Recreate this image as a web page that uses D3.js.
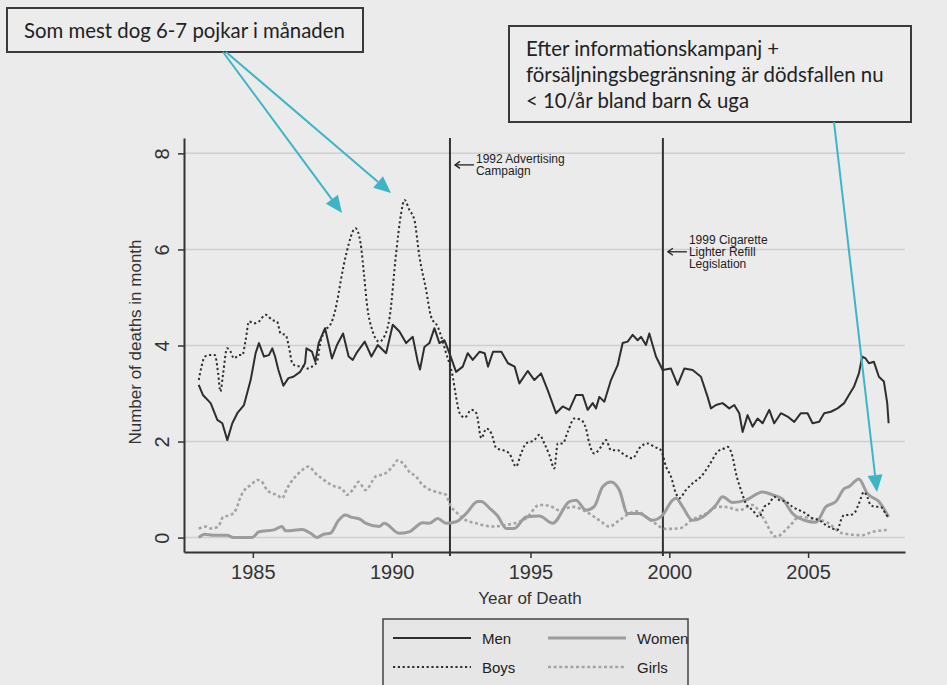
<!DOCTYPE html>
<html><head><meta charset="utf-8">
<script src="https://cdn.jsdelivr.net/npm/d3@7"></script>
<style>body{margin:0;background:#ebebeb;} svg{display:block;}</style>
</head><body><svg id="c" width="947" height="685"></svg>
<script>
// ---- data: [year, deaths in month] ----
const menData=[[1983.05,3.18],[1983.2,2.97],[1983.48,2.8],[1983.72,2.45],[1983.9,2.38],[1984.08,2.03],[1984.26,2.38],[1984.44,2.59],[1984.68,2.76],[1984.92,3.28],[1985.1,3.84],[1985.22,4.05],[1985.4,3.77],[1985.58,3.8],[1985.7,3.94],[1985.8,3.77],[1985.92,3.49],[1986.1,3.16],[1986.28,3.32],[1986.46,3.35],[1986.7,3.45],[1986.88,3.63],[1986.93,3.94],[1987.13,3.87],[1987.25,3.66],[1987.37,4.05],[1987.6,4.36],[1987.85,3.73],[1988.03,4.01],[1988.25,4.25],[1988.45,3.77],[1988.6,3.7],[1988.73,3.84],[1989.03,4.08],[1989.27,3.77],[1989.5,4.01],[1989.8,3.84],[1990.04,4.43],[1990.28,4.29],[1990.52,4.05],[1990.76,4.18],[1990.94,3.66],[1991.02,3.5],[1991.18,3.97],[1991.36,4.05],[1991.54,4.36],[1991.72,4.05],[1991.9,4.11],[1992.08,3.84],[1992.32,3.45],[1992.56,3.56],[1992.74,3.84],[1992.92,3.7],[1993.17,3.87],[1993.35,3.84],[1993.47,3.56],[1993.65,3.87],[1993.95,3.87],[1994.19,3.63],[1994.43,3.56],[1994.6,3.21],[1994.9,3.47],[1995.14,3.28],[1995.38,3.42],[1995.62,3.07],[1995.92,2.59],[1996.16,2.73],[1996.4,2.66],[1996.64,2.97],[1996.88,2.97],[1997.06,2.66],[1997.24,2.8],[1997.36,2.69],[1997.48,2.93],[1997.66,2.83],[1997.9,3.28],[1998.14,3.59],[1998.32,4.05],[1998.5,4.08],[1998.68,4.22],[1998.86,4.11],[1998.98,4.18],[1999.16,4.01],[1999.28,4.25],[1999.52,3.77],[1999.76,3.49],[2000.06,3.52],[2000.3,3.18],[2000.54,3.52],[2000.84,3.49],[2001.14,3.35],[2001.38,2.93],[2001.5,2.69],[2001.68,2.76],[2001.92,2.8],[2002.16,2.69],[2002.34,2.76],[2002.52,2.59],[2002.64,2.2],[2002.82,2.55],[2003.0,2.31],[2003.18,2.48],[2003.36,2.38],[2003.6,2.66],[2003.78,2.38],[2004.02,2.59],[2004.26,2.52],[2004.5,2.41],[2004.74,2.59],[2004.98,2.59],[2005.16,2.38],[2005.4,2.41],[2005.58,2.59],[2005.82,2.62],[2006.06,2.69],[2006.3,2.8],[2006.47,2.97],[2006.65,3.14],[2006.83,3.42],[2006.95,3.77],[2007.07,3.73],[2007.19,3.63],[2007.37,3.66],[2007.55,3.35],[2007.73,3.25],[2007.85,2.8],[2007.9,2.38]];
const womenData=[[1983.05,0],[1983.27,0.07],[1983.57,0.05],[1984.07,0.05],[1984.3,0],[1984.97,0],[1985.22,0.12],[1985.76,0.16],[1986.05,0.23],[1986.18,0.14],[1986.78,0.17],[1987.08,0.09],[1987.31,0],[1987.55,0.07],[1987.79,0.09],[1988.09,0.36],[1988.33,0.47],[1988.57,0.42],[1988.87,0.38],[1989.06,0.3],[1989.55,0.23],[1989.73,0.3],[1990.27,0.09],[1990.63,0.12],[1991.12,0.31],[1991.36,0.3],[1991.66,0.4],[1991.96,0.3],[1992.32,0.33],[1992.68,0.5],[1993.1,0.75],[1993.23,0.75],[1993.53,0.61],[1993.82,0.45],[1994.13,0.19],[1994.42,0.19],[1994.84,0.43],[1995.32,0.45],[1995.8,0.3],[1996.4,0.75],[1996.64,0.78],[1997.0,0.57],[1997.3,0.65],[1997.6,1.06],[1997.9,1.16],[1998.2,0.99],[1998.5,0.5],[1998.92,0.5],[1999.4,0.36],[1999.76,0.47],[2000.12,0.78],[2000.24,0.82],[2000.48,0.64],[2000.84,0.36],[2001.2,0.43],[2001.68,0.68],[2001.92,0.85],[2002.28,0.73],[2002.76,0.78],[2003.36,0.95],[2003.72,0.89],[2004.08,0.8],[2004.44,0.5],[2004.92,0.35],[2005.28,0.32],[2005.64,0.64],[2006.0,0.75],[2006.3,1.02],[2006.47,1.06],[2006.83,1.22],[2007.13,0.92],[2007.55,0.75],[2007.9,0.43]];
const boysData=[[1983.05,3.28],[1983.15,3.56],[1983.27,3.77],[1983.45,3.8],[1983.63,3.8],[1983.75,3.42],[1983.83,3.04],[1983.93,3.42],[1984.07,3.94],[1984.2,3.87],[1984.32,3.73],[1984.5,3.8],[1984.62,3.8],[1984.74,4.11],[1984.86,4.5],[1985.04,4.46],[1985.22,4.5],[1985.46,4.64],[1985.7,4.53],[1985.87,4.5],[1986.0,4.25],[1986.18,4.22],[1986.3,3.97],[1986.42,3.63],[1986.6,3.57],[1986.78,3.57],[1986.96,3.52],[1987.13,3.56],[1987.31,3.66],[1987.43,4.05],[1987.61,4.32],[1987.79,4.43],[1987.97,4.74],[1988.09,5.09],[1988.17,5.36],[1988.37,5.92],[1988.7,6.44],[1988.88,6.13],[1989.0,5.5],[1989.12,4.81],[1989.3,4.32],[1989.55,4.08],[1989.73,4.18],[1989.93,4.6],[1990.16,5.92],[1990.34,6.75],[1990.46,7.03],[1990.64,6.82],[1990.82,6.61],[1991.0,5.85],[1991.24,5.16],[1991.42,4.6],[1991.66,4.39],[1991.96,3.84],[1992.2,3.35],[1992.32,2.93],[1992.45,2.59],[1992.63,2.5],[1992.87,2.66],[1993.05,2.59],[1993.23,2.07],[1993.41,2.27],[1993.59,2.17],[1993.77,1.86],[1994.01,1.82],[1994.24,1.75],[1994.48,1.48],[1994.66,1.75],[1994.84,1.96],[1995.14,2.03],[1995.32,2.14],[1995.5,1.96],[1995.68,1.72],[1995.86,1.44],[1995.98,1.96],[1996.16,1.96],[1996.34,2.2],[1996.58,2.48],[1996.82,2.45],[1997.0,2.27],[1997.12,1.96],[1997.3,1.75],[1997.54,1.89],[1997.72,2.03],[1997.9,1.82],[1998.14,1.82],[1998.32,1.75],[1998.68,1.65],[1998.92,1.86],[1999.22,1.96],[1999.46,1.89],[1999.7,1.82],[1999.88,1.48],[2000.06,1.27],[2000.24,0.92],[2000.36,0.82],[2000.6,0.99],[2000.84,1.13],[2001.14,1.27],[2001.44,1.51],[2001.74,1.79],[2001.99,1.86],[2002.1,1.89],[2002.28,1.68],[2002.4,1.34],[2002.58,0.99],[2002.76,0.71],[2003.0,0.57],[2003.24,0.43],[2003.42,0.64],[2003.6,0.71],[2003.78,0.85],[2003.96,0.78],[2004.2,0.75],[2004.44,0.64],[2004.68,0.57],[2004.92,0.5],[2005.16,0.4],[2005.4,0.36],[2005.64,0.26],[2005.88,0.19],[2006.06,0.16],[2006.18,0.36],[2006.3,0.47],[2006.47,0.47],[2006.65,0.5],[2006.83,0.71],[2007.01,0.95],[2007.13,0.85],[2007.25,0.68],[2007.43,0.64],[2007.61,0.64],[2007.79,0.5],[2007.9,0.4]];
const girlsData=[[1983.05,0.19],[1983.33,0.23],[1983.51,0.19],[1983.75,0.23],[1983.93,0.43],[1984.2,0.47],[1984.38,0.57],[1984.56,0.85],[1984.74,1.02],[1984.92,1.09],[1985.16,1.2],[1985.33,1.16],[1985.51,0.99],[1985.7,0.92],[1985.87,0.89],[1986.05,0.82],[1986.23,1.02],[1986.47,1.23],[1986.71,1.37],[1987.01,1.48],[1987.25,1.34],[1987.49,1.23],[1987.73,1.13],[1987.97,1.06],[1988.21,1.02],[1988.39,0.89],[1988.63,1.02],[1988.81,1.16],[1989.06,0.99],[1989.42,1.27],[1989.78,1.34],[1990.04,1.48],[1990.22,1.61],[1990.4,1.55],[1990.64,1.37],[1990.88,1.27],[1991.06,1.13],[1991.3,1.02],[1991.6,0.95],[1991.96,0.89],[1992.08,0.71],[1992.38,0.5],[1992.68,0.36],[1993.04,0.3],[1993.6,0.23],[1994.1,0.26],[1994.84,0.4],[1995.32,0.68],[1995.68,0.66],[1996.04,0.57],[1996.52,0.64],[1997.0,0.54],[1997.48,0.36],[1997.84,0.23],[1998.2,0.36],[1998.56,0.5],[1998.8,0.55],[1999.4,0.33],[1999.88,0.18],[2000.36,0.19],[2000.84,0.38],[2001.32,0.5],[2001.74,0.64],[2002.0,0.64],[2002.52,0.57],[2003.0,0.68],[2003.36,0.43],[2003.84,0.02],[2004.32,0.23],[2004.68,0.43],[2005.16,0.4],[2005.64,0.33],[2006.24,0.09],[2006.96,0.05],[2007.32,0.12],[2007.9,0.16]];
const seriesNames=["Men","Women","Boys","Girls"];
const xTicks=[1985,1990,1995,2000,2005];
const yTicks=[0,2,4,6,8];
const eventYears=[1992.1,1999.77];
const eventLabels=[["1992 Advertising","Campaign"],["1999 Cigarette","Lighter Refill","Legislation"]];
const eventLabelValues=[7.76,5.95];
const callout1="Som mest dog 6-7 pojkar i månaden";
const callout2=["Efter informationskampanj +","försäljningsbegränsning är dödsfallen nu","< 10/år bland barn & uga"];
const xTitle="Year of Death";
const yTitle="Number of deaths in month";

// ---- drawing ----
const svg=d3.select("#c");
const FONT="'Liberation Sans', Arial, sans-serif";
const x=d3.scaleLinear().domain([1982.52,2008.49]).range([184,905]);
const y=d3.scaleLinear().domain([-0.3,8.32]).range([552,138]);
svg.append("rect").attr("width",947).attr("height",685).attr("fill","#ebebeb");

// gridlines
svg.append("g").selectAll("line").data(yTicks).join("line")
  .attr("x1",184).attr("x2",905).attr("y1",d=>y(d)).attr("y2",d=>y(d))
  .attr("stroke","#cfcfcf").attr("stroke-width",1.5);

// axes
const xa=svg.append("g").attr("transform","translate(0,552)")
  .call(d3.axisBottom(x).tickValues(xTicks).tickFormat(d3.format("d")).tickSize(6).tickSizeOuter(0));
xa.select(".domain").attr("stroke","#333").attr("stroke-width",2);
xa.selectAll(".tick line").attr("stroke","#333").attr("stroke-width",1.5);
xa.selectAll(".tick text").attr("font-family",FONT).attr("font-size",20).attr("fill","#333").attr("dy","0.9em");
const ya=svg.append("g").attr("transform","translate(184,0)")
  .call(d3.axisLeft(y).tickValues(yTicks).tickSize(6).tickSizeOuter(0));
ya.select(".domain").attr("stroke","#333").attr("stroke-width",2);
ya.selectAll(".tick line").attr("stroke","#333").attr("stroke-width",1.5);
ya.selectAll(".tick text").attr("font-family",FONT).attr("font-size",20).attr("fill","#333")
  .attr("x",0).attr("dy",0).attr("text-anchor","middle")
  .attr("transform","translate(-20,0) rotate(-90)").attr("dominant-baseline","middle");

svg.append("text").attr("x",530).attr("y",604).attr("text-anchor","middle")
  .attr("font-family",FONT).attr("font-size",17).attr("fill","#333").text(xTitle);
svg.append("text").attr("transform","translate(141,342) rotate(-90)").attr("text-anchor","middle")
  .attr("font-family",FONT).attr("font-size",17).attr("fill","#333").text(yTitle);

// event lines
eventYears.forEach((yr,i)=>{
  const ex=x(yr);
  svg.append("line").attr("x1",ex).attr("x2",ex).attr("y1",138).attr("y2",556)
    .attr("stroke","#333").attr("stroke-width",2);
  const ay=y(eventLabelValues[i]);
  svg.append("line").attr("x1",ex+5).attr("x2",ex+24).attr("y1",ay).attr("y2",ay).attr("stroke","#222").attr("stroke-width",1.3);
  svg.append("path").attr("d",`M${ex+10},${ay-3.5}L${ex+5},${ay}L${ex+10},${ay+3.5}`).attr("fill","none").attr("stroke","#222").attr("stroke-width",1.3);
  const n=eventLabels[i].length;
  const t=svg.append("text").attr("font-family",FONT).attr("font-size",12).attr("fill","#222");
  eventLabels[i].forEach((s,j)=>{
    t.append("tspan").attr("x",ex+26).attr("y",ay+4+(j-(n-1)/2)*12.3).text(s);
  });
});

// series
const line=d3.line().x(d=>x(d[0])).y(d=>y(d[1]));
const smooth=d3.line().x(d=>x(d[0])).y(d=>y(d[1])).curve(d3.curveMonotoneX);
const styles=[
  {data:menData,color:"#2e2e2e",w:2,dash:null,gen:line},
  {data:womenData,color:"#9c9c9c",w:3,dash:null,gen:smooth},
  {data:boysData,color:"#2e2e2e",w:2,dash:"2.2,2.6",gen:smooth},
  {data:girlsData,color:"#a4a4a4",w:2.6,dash:"3,2.6",gen:smooth}
];
[3,1,2,0].forEach(i=>{
  const s=styles[i];
  svg.append("path").attr("d",s.gen(s.data)).attr("fill","none").attr("stroke",s.color)
    .attr("stroke-width",s.w).attr("stroke-dasharray",s.dash).attr("stroke-linejoin","round");
});

// legend
svg.append("rect").attr("x",383).attr("y",619).attr("width",305).attr("height",75)
  .attr("fill","#e6e6e6").attr("stroke","#444").attr("stroke-width",1.5);
const legPos=[[393,638],[548,638],[393,667],[548,667]];
seriesNames.forEach((nm,i)=>{
  const s=styles[i],p=legPos[i];
  svg.append("line").attr("x1",p[0]).attr("x2",p[0]+78).attr("y1",p[1]).attr("y2",p[1])
    .attr("stroke",s.color).attr("stroke-width",s.w).attr("stroke-dasharray",s.dash);
  svg.append("text").attr("x",p[0]+89).attr("y",p[1]+5.5).attr("font-family",FONT).attr("font-size",15)
    .attr("fill","#222").text(nm);
});

// callout boxes
const CF="Lato, 'Open Sans', sans-serif";
function fitText(sel,target){
  const w=sel.node().getComputedTextLength();
  sel.attr("font-size",20*target/w);
}
svg.append("rect").attr("x",7).attr("y",8).attr("width",356).attr("height",44)
  .attr("fill","#ececec").attr("stroke","#3a3a3a").attr("stroke-width",2);
const c1=svg.append("text").attr("x",24).attr("y",38).attr("font-family",CF).attr("font-size",20).attr("fill","#222").text(callout1);
fitText(c1,321);
svg.append("rect").attr("x",509).attr("y",26).attr("width",402).attr("height",96)
  .attr("fill","#ececec").attr("stroke","#3a3a3a").attr("stroke-width",2);
const c2=svg.append("g");
const lines2=callout2.map((s,j)=>c2.append("text").attr("x",526).attr("y",56+j*25.8).attr("font-family",CF).attr("font-size",20).attr("fill","#222").text(s));
const w2=lines2[1].node().getComputedTextLength();
lines2.forEach(t=>t.attr("font-size",20*358/w2));

// teal arrows
function arrow(x1,y1,x2,y2){
  const a=Math.atan2(y2-y1,x2-x1), L=17, H=7.5;
  const bx=x2-L*Math.cos(a), by=y2-L*Math.sin(a);
  svg.append("line").attr("x1",x1).attr("y1",y1).attr("x2",bx).attr("y2",by).attr("stroke","#3db5c6").attr("stroke-width",2);
  const px=-Math.sin(a)*H, py=Math.cos(a)*H;
  svg.append("path").attr("d",`M${x2},${y2}L${bx+px},${by+py}L${bx-px},${by-py}Z`).attr("fill","#3db5c6");
}
arrow(223,52,342,213);
arrow(226,52,391,193);
arrow(834,122,877,492);
</script></body></html>
